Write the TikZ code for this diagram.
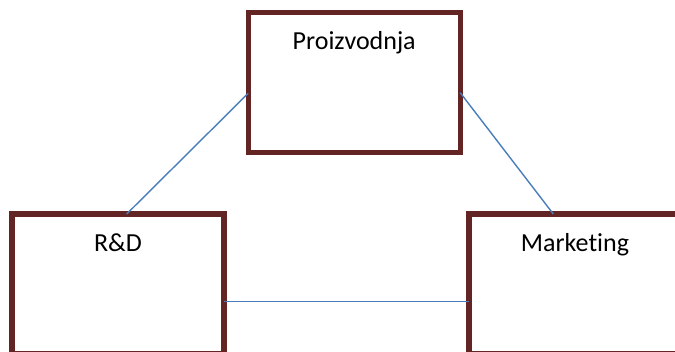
\documentclass[tikz,border=0pt]{standalone}
\usepackage{fontspec}
\setmainfont{Carlito}[Ligatures=NoCommon]
\usetikzlibrary{positioning}

\definecolor{boxred}{HTML}{632523}
\definecolor{linkblue}{HTML}{4A7EBB}

\begin{document}
\begin{tikzpicture}[x=1pt,y=1pt,
    dept/.style={draw=boxred, line width=5.3pt, rectangle, outer sep=0pt,
        minimum width=212pt, minimum height=140pt, fill=white},
    title/.style={font=\fontsize{26}{30}\selectfont, inner sep=0pt},
    link/.style={draw=linkblue, line width=1.4pt}]
    \useasboundingbox (0,0) rectangle (675,351);
    \clip (0,0) rectangle (675,351);

    % Departments
    \node[dept] (prod) at (354.2,268.3) {};
    \node[dept] (rd) at (118,67) {};
    \node[dept] (mkt) at (575,67) {};

    % Names
    \node[title] (prodname) at ([yshift=-30pt]prod.north) {Proizvodnja};
    \node[title] (rdname) at ([yshift=-29pt]rd.north) {R\&D};
    \node[title] (mktname) at ([yshift=-31pt]mkt.north) {Marketing};

    % Links
    \draw[link] ([yshift=-10.6pt]prod.west) -- ([xshift=8.7pt]rd.north);
    \draw[link] ([yshift=-10pt]prod.east) -- ([xshift=-21.7pt]mkt.north);
    \draw[link] ([yshift=-17.7pt]rd.east) -- ([yshift=-17.7pt]mkt.west);
\end{tikzpicture}
\end{document}
